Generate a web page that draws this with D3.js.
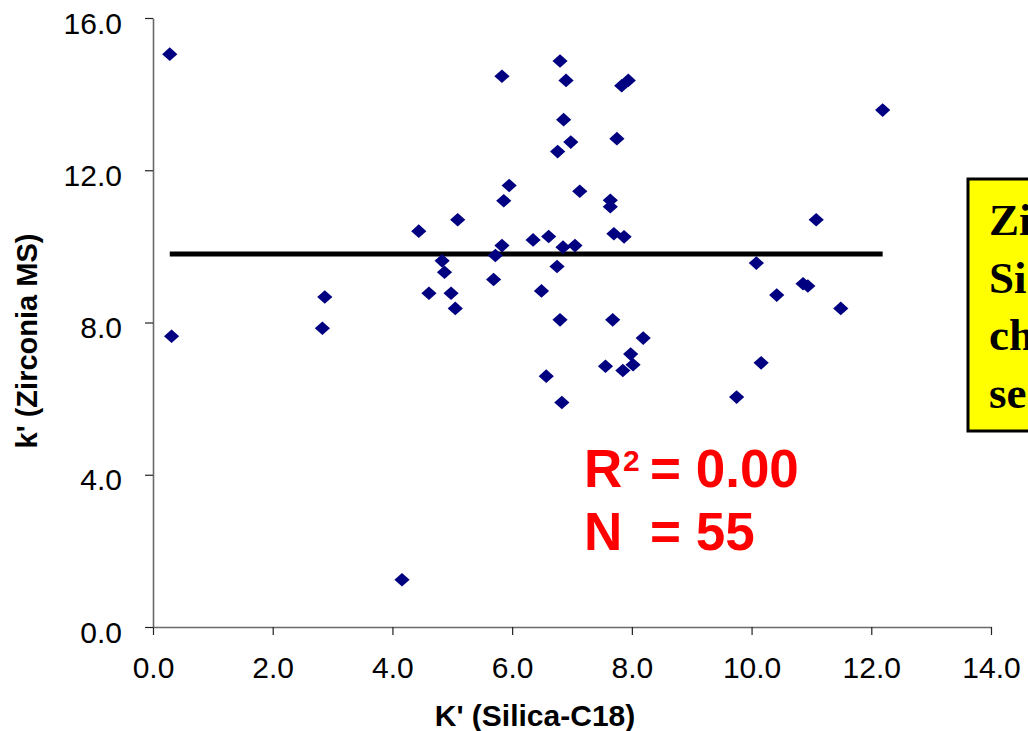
<!DOCTYPE html>
<html>
<head>
<meta charset="utf-8">
<script src="https://cdn.jsdelivr.net/npm/d3@7"></script>
<style>
  html, body { margin: 0; padding: 0; background: #fff; overflow: hidden; }
  svg { display: block; }
</style>
</head>
<body>
<svg id="chart" width="1028" height="731"></svg>
<script>
// ---- Data ----
const silicaK = [0.28, 0.31, 2.87, 2.83, 4.16, 4.44, 4.61, 4.83, 4.87, 4.98,
                 5.05, 5.09, 5.69, 5.72, 5.83, 5.83, 5.86, 5.95, 6.35, 6.49,
                 6.57, 6.61, 6.75, 6.76, 6.80, 6.80, 6.83, 6.85, 6.86, 6.90,
                 6.98, 7.05, 7.13, 7.56, 7.64, 7.64, 7.68, 7.70, 7.75, 7.83,
                 7.85, 7.87, 7.94, 7.98, 8.02, 8.19, 9.75, 10.08, 10.16, 10.42,
                 10.86, 10.94, 11.08, 11.49, 12.19];
const zirconiaK = [15.05, 7.64, 8.67, 7.85, 1.24, 10.40, 8.77, 9.62, 9.32, 8.77,
                   8.37, 10.70, 9.13, 9.76, 10.02, 14.47, 11.20, 11.60, 10.17, 8.83,
                   6.59, 10.26, 9.47, 12.49, 14.87, 8.07, 5.90, 9.98, 13.33, 14.36,
                   12.74, 10.02, 11.45, 6.85, 11.21, 11.04, 8.07, 10.33, 12.83, 14.22,
                   6.74, 10.25, 14.36, 7.17, 6.89, 7.59, 6.04, 9.56, 6.94, 8.72,
                   9.02, 8.96, 10.70, 8.37, 13.58];
const fitLevel = 9.80;           // horizontal trend line value
const xTicks = [0, 2, 4, 6, 8, 10, 12, 14];
const yTicks = [0, 4, 8, 12, 16];
const xTitle = "K' (Silica-C18)";
const yTitle = "k' (Zirconia MS)";
const statR2 = "0.00";
const statN = "55";
// Only the visible start of each line of the note box shows in the reference
const noteLines = ["Zi", "Si", "ch", "se"];

// ---- Layout ----
const svg = d3.select("#chart");
const x = d3.scaleLinear().domain([0, 14]).range([153, 991]);
const y = d3.scaleLinear().domain([0, 16]).range([627, 18]);
const fmt = d3.format(".1f");
const sans = "Arial, 'Liberation Sans', sans-serif";

// Axes
const xAxis = svg.append("g")
  .attr("transform", `translate(0,${y(0)})`)
  .call(d3.axisBottom(x).tickValues(xTicks).tickFormat(fmt).tickSize(8).tickPadding(22).tickSizeOuter(0));
const yAxis = svg.append("g")
  .attr("transform", `translate(${x(0)},0)`)
  .call(d3.axisLeft(y).tickValues(yTicks).tickFormat(fmt).tickSize(8).tickPadding(23).tickSizeOuter(0));

[xAxis, yAxis].forEach(g => {
  g.select(".domain").attr("stroke", "#6a6a6a").attr("stroke-width", 1.6);
  g.selectAll(".tick line").attr("stroke", "#222").attr("stroke-width", 1.2);
  g.selectAll(".tick text").attr("fill", "#000").style("font-family", sans).style("font-size", "30px");
});
yAxis.selectAll(".tick text").attr("dy", "0.5em");

// Axis titles
svg.append("text")
  .attr("x", 535).attr("y", 726)
  .attr("text-anchor", "middle")
  .style("font-family", sans).style("font-weight", "bold").style("font-size", "30px")
  .text(xTitle);
svg.append("text")
  .attr("transform", `translate(37,${341}) rotate(-90)`)
  .attr("text-anchor", "middle")
  .style("font-family", sans).style("font-weight", "bold").style("font-size", "29px")
  .text(yTitle);

// Trend line (horizontal, spans data range)
svg.append("line")
  .attr("x1", x(d3.min(silicaK))).attr("x2", x(d3.max(silicaK)))
  .attr("y1", y(fitLevel)).attr("y2", y(fitLevel))
  .attr("stroke", "#000").attr("stroke-width", 5);

// Points (diamonds)
const pts = silicaK.map((v, i) => ({ xv: v, yv: zirconiaK[i] }));
svg.append("g").selectAll("path")
  .data(pts).enter().append("path")
  .attr("transform", d => `translate(${x(d.xv)},${y(d.yv)})`)
  .attr("d", "M0,-6.8L7.6,0L0,6.8L-7.6,0Z")
  .attr("fill", "#000080");

// Statistics annotation
const red = "#ff0000";
const statStyle = s => s.style("font-family", sans).style("font-weight", "bold").attr("fill", red);
svg.append("text").attr("x", 584).attr("y", 487).style("font-size", "53px").call(statStyle).text("R");
svg.append("text").attr("x", 623).attr("y", 471).style("font-size", "30px").call(statStyle).text("2");
svg.append("text").attr("x", 650).attr("y", 487).style("font-size", "53px").call(statStyle).text("= " + statR2);
svg.append("text").attr("x", 584).attr("y", 550).style("font-size", "53px").call(statStyle).text("N");
svg.append("text").attr("x", 650).attr("y", 550).style("font-size", "53px").call(statStyle).text("= " + statN);

// Yellow note box (runs off the right edge, as in the reference)
svg.append("rect")
  .attr("x", 968).attr("y", 179).attr("width", 300).attr("height", 252)
  .attr("fill", "#ffff00").attr("stroke", "#000").attr("stroke-width", 3);
svg.append("g").selectAll("text")
  .data(noteLines).enter().append("text")
  .attr("x", 989)
  .attr("y", (d, i) => 235 + i * 57.7)
  .style("font-family", "'Times New Roman', 'Liberation Serif', serif")
  .style("font-weight", "bold").style("font-size", "45px")
  .attr("fill", "#000")
  .text(d => d);
</script>
</body>
</html>
